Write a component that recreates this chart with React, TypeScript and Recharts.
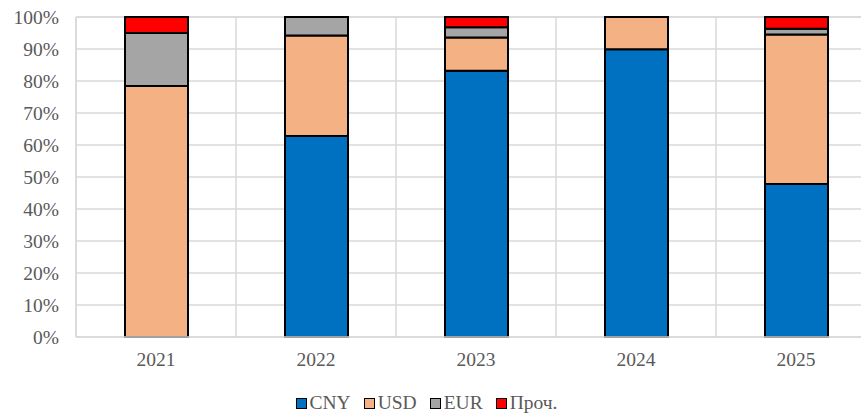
import { BarChart, Bar, XAxis, YAxis, CartesianGrid, Legend } from "recharts";

const years = ["2021", "2022", "2023", "2024", "2025"];
const cny = [0, 62.8, 83.2, 89.9, 47.8];
const usd = [78.4, 31.4, 10.4, 10.1, 46.7];
const eur = [16.6, 5.8, 3.2, 0, 1.8];
const other = [5.0, 0, 3.2, 0, 3.7];
const yTicks = [0, 10, 20, 30, 40, 50, 60, 70, 80, 90, 100];

const series = [
    { key: "cny", name: "CNY", color: "#0070C0" },
    { key: "usd", name: "USD", color: "#F4B183" },
    { key: "eur", name: "EUR", color: "#A5A5A5" },
    { key: "other", name: "Проч.", color: "#FF0000" },
];

const data = years.map((year, i) => ({
    year,
    cny: cny[i],
    usd: usd[i],
    eur: eur[i],
    other: other[i],
}));

const font = '"Liberation Serif", "Times New Roman", serif';
const textColor = "#595959";
const gridColor = "#d9d9d9";

const LegendContent = () => (
    <div style={{ display: "flex", justifyContent: "center", alignItems: "center", fontFamily: font, fontSize: 19.5, color: textColor }}>
        {series.map((s) => (
            <div key={s.key} style={{ display: "flex", alignItems: "center", marginRight: 13 }}>
                <span style={{ display: "inline-block", width: 9, height: 9, background: s.color, border: "1px solid #000", marginRight: 3 }} />
                <span style={{ lineHeight: "20px" }}>{s.name}</span>
            </div>
        ))}
    </div>
);

export default function App() {
    return (
        <div style={{ position: "fixed", left: 0, top: 0, width: 861, height: 414, overflow: "hidden", background: "#fff" }}>
            <BarChart
                width={880}
                height={414}
                data={data}
                margin={{ top: 17, right: 4, left: 0, bottom: 0 }}
            >
                <CartesianGrid
                    stroke={gridColor}
                    strokeWidth={1.5}
                    verticalCoordinatesGenerator={({ offset }: any) =>
                        years.map((_, i) => offset.left + (i * offset.width) / years.length).concat(offset.left + offset.width)
                    }
                />
                <XAxis
                    dataKey="year"
                    height={77}
                    stroke={gridColor}
                    strokeWidth={1.5}
                    tickLine={false}
                    tickSize={0}
                    tickMargin={15}
                    tick={{ fontSize: 19.5, fill: textColor, fontFamily: font }}
                />
                <YAxis
                    width={76}
                    domain={[0, 100]}
                    ticks={yTicks}
                    interval={0}
                    stroke={gridColor}
                    strokeWidth={1.5}
                    tickLine={false}
                    tickSize={0}
                    tickMargin={17}
                    tickFormatter={(v) => `${v}%`}
                    tick={{ fontSize: 19.5, fill: textColor, fontFamily: font }}
                />
                <Legend
                    layout="horizontal"
                    verticalAlign="middle"
                    align="center"
                    wrapperStyle={{ top: 393, left: 0, width: 866 }}
                    content={<LegendContent />}
                />
                {series.map((s) => (
                    <Bar
                        key={s.key}
                        dataKey={s.key}
                        name={s.name}
                        stackId="a"
                        fill={s.color}
                        stroke="#000"
                        strokeWidth={2}
                        barSize={63}
                        isAnimationActive={false}
                    />
                ))}
            </BarChart>
        </div>
    );
}
